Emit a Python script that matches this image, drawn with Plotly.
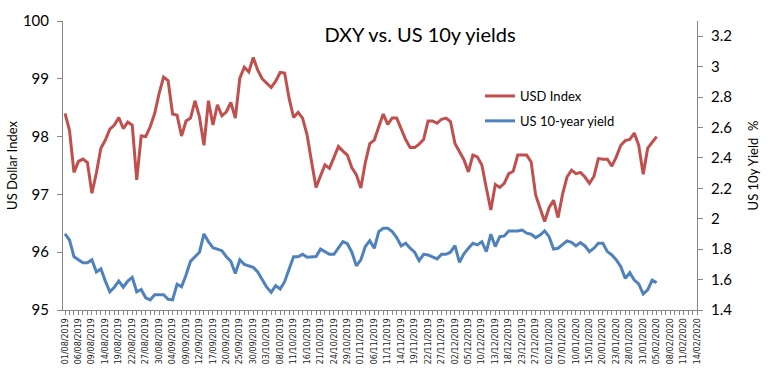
import datetime as dt
import plotly.graph_objects as go

# ---- categories (business days Aug 2019 - Feb 2020, then calendar days to 14/02) ----
def build_dates():
    out = []
    d = dt.date(2019, 8, 1)
    end_bd = dt.date(2020, 2, 5)
    skip = {dt.date(2019, 12, 25), dt.date(2020, 1, 1)}
    while d <= end_bd:
        if d.weekday() < 5 and d not in skip:
            out.append(d.strftime("%d/%m/%Y"))
        d += dt.timedelta(days=1)
    while d <= dt.date(2020, 2, 14):
        out.append(d.strftime("%d/%m/%Y"))
        d += dt.timedelta(days=1)
    return out

dates = build_dates()

usd_index = [
    98.40, 98.11, 97.38, 97.57, 97.61, 97.55, 97.02, 97.37, 97.80, 97.94,
    98.13, 98.20, 98.33, 98.14, 98.25, 98.20, 97.25, 98.01, 98.00, 98.17,
    98.40, 98.75, 99.03, 98.97, 98.39, 98.37, 98.01, 98.27, 98.32, 98.62,
    98.34, 97.85, 98.62, 98.20, 98.55, 98.36, 98.43, 98.59, 98.32, 99.01,
    99.20, 99.12, 99.37, 99.15, 99.00, 98.92, 98.85, 98.96, 99.11, 99.10,
    98.66, 98.33, 98.42, 98.32, 98.03, 97.57, 97.12, 97.32, 97.51, 97.45,
    97.65, 97.83, 97.75, 97.68, 97.46, 97.34, 97.11, 97.55, 97.88, 97.94,
    98.17, 98.39, 98.21, 98.32, 98.32, 98.14, 97.95, 97.81, 97.81, 97.87,
    97.95, 98.27, 98.27, 98.23, 98.30, 98.32, 98.26, 97.88, 97.74, 97.60,
    97.39, 97.68, 97.65, 97.51, 97.11, 96.73, 97.17, 97.12, 97.19, 97.36,
    97.40, 97.68, 97.68, 97.68, 97.56, 96.99, 96.76, 96.53, 96.77, 96.90,
    96.60, 97.00, 97.30, 97.42, 97.36, 97.38, 97.30, 97.19, 97.31, 97.62,
    97.61, 97.61, 97.49, 97.65, 97.85, 97.93, 97.95, 98.06, 97.85, 97.35,
    97.80, 97.91, 98.00,
]

us10y_yield = [
    1.90, 1.86, 1.75, 1.73, 1.71, 1.71, 1.73, 1.65, 1.67, 1.59,
    1.52, 1.55, 1.59, 1.55, 1.59, 1.615, 1.52, 1.535, 1.48, 1.466,
    1.50, 1.50, 1.50, 1.47, 1.466, 1.57, 1.553, 1.63, 1.72, 1.75,
    1.78, 1.90, 1.85, 1.81, 1.80, 1.79, 1.75, 1.72, 1.64, 1.73,
    1.70, 1.69, 1.68, 1.65, 1.60, 1.55, 1.516, 1.56, 1.538, 1.586,
    1.67, 1.75, 1.75, 1.766, 1.747, 1.751, 1.751, 1.80, 1.784, 1.766,
    1.766, 1.81, 1.849, 1.836, 1.78, 1.69, 1.73, 1.817, 1.856, 1.806,
    1.915, 1.937, 1.937, 1.915, 1.876, 1.821, 1.839, 1.806, 1.780, 1.724,
    1.766, 1.762, 1.751, 1.736, 1.766, 1.766, 1.780, 1.823, 1.714, 1.77,
    1.806, 1.839, 1.828, 1.849, 1.784, 1.898, 1.817, 1.882, 1.887, 1.920,
    1.920, 1.920, 1.926, 1.905, 1.898, 1.876, 1.893, 1.920, 1.882, 1.801,
    1.806, 1.828, 1.854, 1.845, 1.821, 1.843, 1.821, 1.784, 1.806, 1.839,
    1.839, 1.784, 1.762, 1.729, 1.685, 1.608, 1.645, 1.597, 1.571, 1.505,
    1.532, 1.597, 1.580,
]

left_ticks = [95, 96, 97, 98, 99, 100]
right_ticks = [1.4, 1.6, 1.8, 2, 2.2, 2.4, 2.6, 2.8, 3, 3.2]
label_dates = dates[::3]

RED = "#C0504D"
BLUE = "#4F81BD"
AXIS = "#868686"
FONT = "Lato"

fig = go.Figure()
fig.add_trace(go.Scatter(
    x=dates[:len(usd_index)], y=usd_index, name="USD Index", mode="lines",
    line=dict(color=RED, width=3), yaxis="y", legendgroup="a",
))
fig.add_trace(go.Scatter(
    x=dates[:len(us10y_yield)], y=us10y_yield, name="US 10-year yield", mode="lines",
    line=dict(color=BLUE, width=3), yaxis="y2", legendgroup="b",
))

ticktext = [d if d in label_dates else "" for d in dates]

fig.update_layout(
    width=769, height=377,
    margin=dict(l=63, r=72, t=21, b=67),
    paper_bgcolor="white", plot_bgcolor="white",
    font=dict(family=FONT, color="#000000"),
    title=dict(text="DXY vs. US 10y yields", x=420 / 769, xanchor="center",
               y=1 - 35 / 377, yanchor="middle", font=dict(size=20, family=FONT)),
    showlegend=True,
    legend=dict(x=(480 - 63) / 634, y=1 - (81 - 21) / 289, xanchor="left", yanchor="top",
                bgcolor="rgba(0,0,0,0)", font=dict(size=13, family=FONT),
                tracegroupgap=5, itemwidth=30),
    xaxis=dict(
        type="category", categoryorder="array", categoryarray=dates,
        range=[-0.45, len(dates) - 1], automargin=False,
        tickmode="array", tickvals=dates, ticktext=ticktext,
        tickangle=-90, tickfont=dict(size=8, family="DejaVu Sans", color="#222222"),
        ticks="outside", ticklen=4, tickcolor=AXIS,
        showline=True, linecolor=AXIS, linewidth=1, showgrid=False, zeroline=False,
    ),
    yaxis=dict(
        title=dict(text="US Dollar Index", font=dict(size=13, family=FONT), standoff=2),
        range=[95, 100], tickvals=left_ticks, automargin=False,
        tickfont=dict(size=15, family=FONT),
        ticks="outside", ticklen=5, tickcolor=AXIS, ticklabelstandoff=5,
        showline=True, linecolor=AXIS, linewidth=1, showgrid=False, zeroline=False,
    ),
    yaxis2=dict(
        title=dict(text="US 10y Yield  %", font=dict(size=13, family=FONT), standoff=17),
        overlaying="y", side="right", automargin=False,
        range=[1.4, 3.3], tickvals=right_ticks,
        ticktext=[("%g" % v) for v in right_ticks],
        tickfont=dict(size=15, family=FONT),
        ticks="outside", ticklen=5, tickcolor=AXIS, ticklabelstandoff=5,
        showline=True, linecolor=AXIS, linewidth=1, showgrid=False, zeroline=False,
    ),
)

fig.write_html("out.html", config={"displayModeBar": False},
               post_script="document.body.style.margin='0';")
